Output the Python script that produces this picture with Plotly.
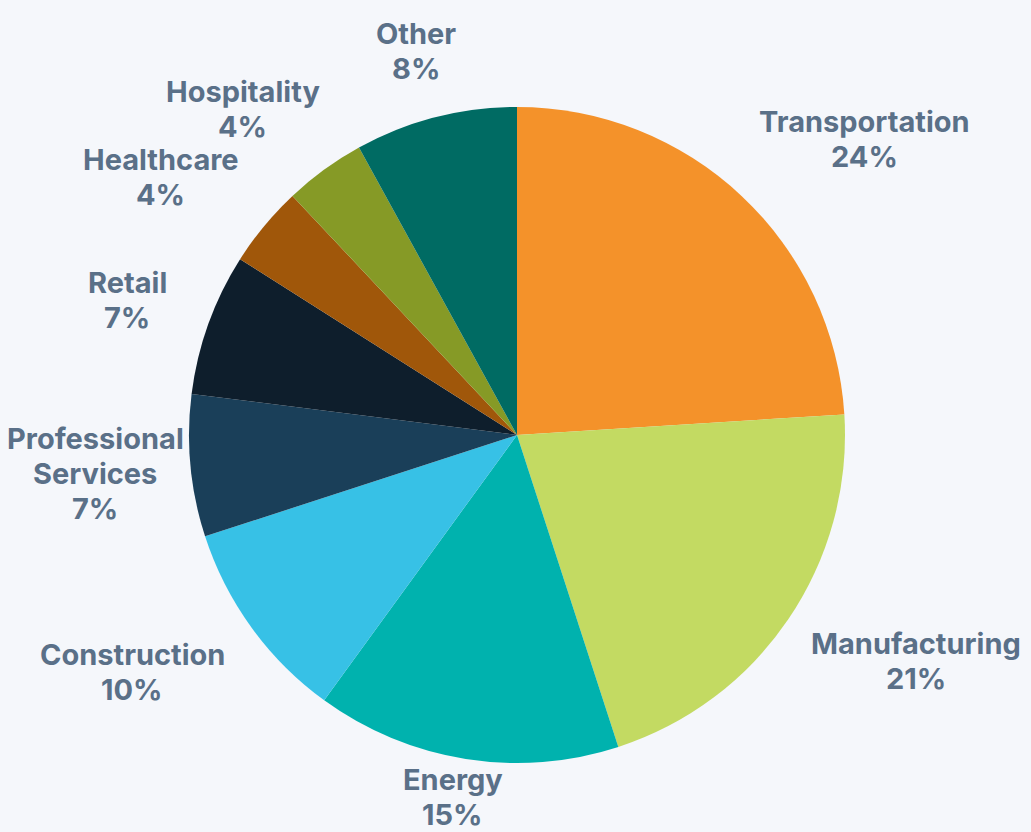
import math
import plotly.graph_objects as go

categories = ["Transportation", "Manufacturing", "Energy", "Construction",
              "Professional Services", "Retail", "Healthcare", "Hospitality", "Other"]
label_lines = [["Transportation"], ["Manufacturing"], ["Energy"], ["Construction"],
               ["Professional", "Services"], ["Retail"], ["Healthcare"], ["Hospitality"], ["Other"]]
values = [24, 21, 15, 10, 7, 7, 4, 4, 8]
colors = ["#F4922A", "#C3DA62", "#00B2AE", "#37C1E6", "#1A3F59",
          "#0E1E2C", "#A0570A", "#869A26", "#006B63"]

W, H = 1031, 832
CX, CY, R = 517, 435, 328          # pie centre / radius in pixels (screen coords)
FONT = 29
CHAR_W = 14.5
LINE_H = 35.0
OFFSET = 40
VK = 0.8
PAD = 8

fig = go.Figure(go.Pie(
    labels=categories,
    values=values,
    sort=False,
    direction="clockwise",
    rotation=0,
    marker=dict(colors=colors, line=dict(width=0)),
    textinfo="none",
    showlegend=False,
    hoverinfo="label+percent",
    domain=dict(x=[(CX - R) / W, (CX + R) / W],
                y=[(H - CY - R) / H, (H - CY + R) / H]),
))

total = sum(values)
cum = 0.0
annotations = []
for lines, v in zip(label_lines, values):
    mid = (cum + v / 2) / total * 2 * math.pi
    cum += v
    vx, vy = math.sin(mid), -math.cos(mid)          # screen direction
    m = max(abs(vx), abs(vy))
    pct = round(v / total * 100)
    text_lines = lines + [f"{pct}%"]
    w = max(len(s) for s in text_lines) * CHAR_W
    h = len(text_lines) * LINE_H
    ax, ay = CX + R * vx, CY + R * vy
    x = ax + (w / 2) * vx / m + OFFSET * vx
    y = ay + VK * (h / 2) * vy / m + OFFSET * vy
    x = min(max(x, w / 2 + PAD), W - w / 2 - PAD)
    y = min(max(y, h / 2), H - h / 2)
    n = len(text_lines)
    for i, s in enumerate(text_lines):
        yi = y + (i - (n - 1) / 2) * LINE_H
        annotations.append(dict(
            x=x / W, y=1 - yi / H, xref="paper", yref="paper",
            xanchor="center", yanchor="middle", showarrow=False,
            text=s,
            font=dict(family="Inter", size=FONT, color="#5A7088", weight="bold"),
        ))

fig.update_layout(
    width=W, height=H,
    paper_bgcolor="#F5F7FB",
    plot_bgcolor="#F5F7FB",
    margin=dict(l=0, r=0, t=0, b=0),
    annotations=annotations,
)
fig.write_html("out.html", config={"displayModeBar": False},
               post_script="document.body.style.margin='0';document.body.style.background='#F5F7FB';")
